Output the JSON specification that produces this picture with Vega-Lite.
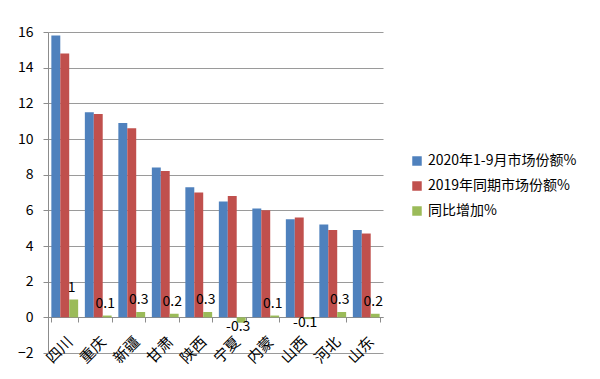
{
  "$schema": "https://vega.github.io/schema/vega-lite/v6.json",
  "width": 335,
  "height": 321,
  "autosize": "none",
  "padding": {"left": 48, "top": 32, "right": 217, "bottom": 26},
  "background": "white",
  "config": {"view": {"stroke": null}, "font": "Noto Sans CJK SC"},
  "data": {
    "values": [
      {"province": "四川", "series": "2020年1-9月市场份额%", "value": 15.8},
      {"province": "四川", "series": "2019年同期市场份额%", "value": 14.8},
      {"province": "四川", "series": "同比增加%", "value": 1},
      {"province": "重庆", "series": "2020年1-9月市场份额%", "value": 11.5},
      {"province": "重庆", "series": "2019年同期市场份额%", "value": 11.4},
      {"province": "重庆", "series": "同比增加%", "value": 0.1},
      {"province": "新疆", "series": "2020年1-9月市场份额%", "value": 10.9},
      {"province": "新疆", "series": "2019年同期市场份额%", "value": 10.6},
      {"province": "新疆", "series": "同比增加%", "value": 0.3},
      {"province": "甘肃", "series": "2020年1-9月市场份额%", "value": 8.4},
      {"province": "甘肃", "series": "2019年同期市场份额%", "value": 8.2},
      {"province": "甘肃", "series": "同比增加%", "value": 0.2},
      {"province": "陕西", "series": "2020年1-9月市场份额%", "value": 7.3},
      {"province": "陕西", "series": "2019年同期市场份额%", "value": 7.0},
      {"province": "陕西", "series": "同比增加%", "value": 0.3},
      {"province": "宁夏", "series": "2020年1-9月市场份额%", "value": 6.5},
      {"province": "宁夏", "series": "2019年同期市场份额%", "value": 6.8},
      {"province": "宁夏", "series": "同比增加%", "value": -0.3},
      {"province": "内蒙", "series": "2020年1-9月市场份额%", "value": 6.1},
      {"province": "内蒙", "series": "2019年同期市场份额%", "value": 6.0},
      {"province": "内蒙", "series": "同比增加%", "value": 0.1},
      {"province": "山西", "series": "2020年1-9月市场份额%", "value": 5.5},
      {"province": "山西", "series": "2019年同期市场份额%", "value": 5.6},
      {"province": "山西", "series": "同比增加%", "value": -0.1},
      {"province": "河北", "series": "2020年1-9月市场份额%", "value": 5.2},
      {"province": "河北", "series": "2019年同期市场份额%", "value": 4.9},
      {"province": "河北", "series": "同比增加%", "value": 0.3},
      {"province": "山东", "series": "2020年1-9月市场份额%", "value": 4.9},
      {"province": "山东", "series": "2019年同期市场份额%", "value": 4.7},
      {"province": "山东", "series": "同比增加%", "value": 0.2}
    ]
  },
  "encoding": {
    "x": {
      "field": "province",
      "type": "nominal",
      "sort": null,
      "title": null,
      "scale": {"paddingInner": 0.2, "paddingOuter": 0.1},
      "axis": {
        "offset": -36,
        "labelAngle": -45,
        "labelFontSize": 15,
        "labelColor": "#000000",
        "labelFont": "Noto Sans CJK SC",
        "labelPadding": 12,
        "domainColor": "#8c8c8c",
        "tickColor": "#8c8c8c",
        "tickBand": "extent",
        "tickSize": 5
      }
    },
    "xOffset": {
      "field": "series",
      "type": "nominal",
      "scale": {"domain": ["2020年1-9月市场份额%", "2019年同期市场份额%", "同比增加%"], "paddingInner": 0}
    },
    "y": {
      "field": "value",
      "type": "quantitative",
      "title": null,
      "scale": {"domain": [-2, 16], "nice": false},
      "axis": {
        "values": [-2, 0, 2, 4, 6, 8, 10, 12, 14, 16],
        "labelFontSize": 14,
        "labelColor": "#000000",
        "labelPadding": 10,
        "tickSize": 5,
        "tickColor": "#8c8c8c",
        "domainColor": "#8c8c8c",
        "gridColor": "#9a9a9a",
        "gridWidth": 1.2
      }
    }
  },
  "layer": [
    {
      "mark": {"type": "bar", "stroke": null},
      "encoding": {
        "color": {
          "field": "series",
          "type": "nominal",
          "scale": {
            "domain": ["2020年1-9月市场份额%", "2019年同期市场份额%", "同比增加%"],
            "range": ["#4F81BD", "#C0504D", "#9BBB59"]
          },
          "legend": {
            "title": null,
            "orient": "none",
            "legendX": 362,
            "legendY": 122,
            "symbolType": "square",
            "symbolSize": 90,
            "symbolStrokeWidth": 0,
            "labelFontSize": 14,
            "labelColor": "#000000",
            "labelFont": "Noto Sans CJK SC",
            "rowPadding": 11,
            "labelOffset": 4
          }
        }
      }
    },
    {
      "transform": [{"filter": "datum.series === '同比增加%' && datum.value >= 0"}],
      "mark": {"type": "text", "baseline": "bottom", "dy": -5, "dx": -2, "fontSize": 14, "color": "#000000", "font": "Noto Sans CJK SC"},
      "encoding": {"text": {"field": "value", "type": "nominal"}}
    },
    {
      "transform": [{"filter": "datum.series === '同比增加%' && datum.value < 0"}],
      "mark": {"type": "text", "baseline": "top", "dy": -3, "dx": -3, "fontSize": 14, "color": "#000000", "font": "Noto Sans CJK SC"},
      "encoding": {"text": {"field": "value", "type": "nominal"}}
    }
  ]
}
